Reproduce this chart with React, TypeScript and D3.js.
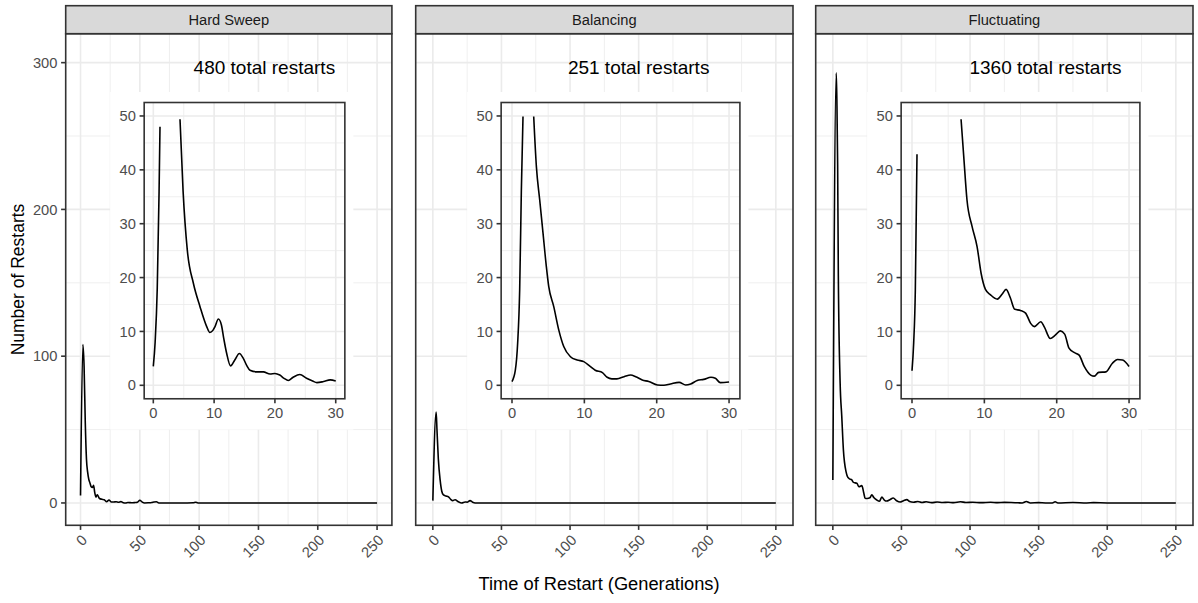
import React from "react";
import * as d3 from "d3";

// Facet labels and annotation totals
const panelTitles = ["Hard Sweep", "Balancing", "Fluctuating"];
const totalRestarts = [480, 251, 1360];
const annotationTime = [155, 150, 155];

// Full-range restart counts (generations 0-250)
const sweepTime = [0, 2, 3, 4, 5, 6, 7, 8, 9, 10, 11, 12, 13, 14, 15, 16, 18, 20, 22, 24, 26, 28, 30, 32, 34, 36, 38, 40, 42, 44, 46, 48, 50, 52, 54, 57, 60, 62, 64, 66, 70, 80, 90, 95, 97, 99, 110, 250];
const sweepCount = [5, 108, 93, 55, 30, 21, 16, 13.5, 11, 10.5, 12, 7, 4, 5.5, 4.5, 3, 2.5, 2.2, 0.9, 2.0, 0.7, 0.7, 0.8, 0.5, 0.9, 0.2, 0, 0.3, 0.2, 0.1, 0.3, 0.5, 1.8, 0.6, 0, 0.1, 0.3, 0.7, 0.8, 0, 0, 0, 0, 0.1, 0.5, 0, 0, 0];

const balancingTime = [0, 2.4, 3, 4, 5.3, 6.5, 7.7, 9.5, 11.4, 13, 14.5, 16.2, 18.6, 21, 23.5, 25, 27.1, 29, 30.8, 250];
const balancingCount = [1.6, 62, 50, 30, 15.7, 8, 5.5, 4.8, 4.2, 2.5, 1.6, 2.2, 0.8, 0, 0.7, 0.5, 1.6, 0.5, 0, 0];

const fluctTime = [0, 2.5, 3, 3.5, 4, 5.3, 6.5, 7.7, 9.7, 10.6, 12, 13.8, 15, 17.5, 19, 21.1, 22.5, 23.5, 25, 27, 28.4, 30, 32, 34, 35.7, 37.5, 39.3, 41.5, 44, 46.5, 49, 51.5, 53.9, 56, 58.7, 62, 65, 68, 72, 76, 80, 84, 88, 93, 97, 102, 108, 115, 120, 125, 130, 135, 138, 141, 144, 150, 155, 160, 162, 164, 175, 185, 190, 200, 250];
const fluctCount = [15.7, 293, 270, 230, 155, 82, 59, 36, 21, 18, 16.5, 15.7, 14, 13.4, 11, 11.8, 7, 3.2, 3, 3.5, 5.5, 3.5, 2, 1.2, 4, 2, 1.3, 2.2, 3.4, 1.5, 0.6, 1.5, 2.3, 1, 0.5, 1, 0.3, 0.8, 0.2, 0.6, 0.3, 0.5, 0.2, 0.8, 0.3, 0.5, 0.2, 0.5, 0.2, 0.4, 0.3, 0.1, 0, 1.0, 0, 0.2, 0, 0, 0.8, 0, 0.3, 0, 0.2, 0, 0];

// Early restarts (generations 0-30), shown in the inset
const sweepInsetTime = [0, 0.3, 0.65, 0.95, 1.1, 1.6, 2.2, 3.0, 3.8, 4.39, 4.9, 5.6, 6.58, 7.68, 8.78, 9.3, 9.8, 10.15, 10.7, 11.2, 11.6, 12.07, 12.7, 13.4, 14.15, 14.8, 15.4, 15.9, 17, 18.1, 19.2, 20, 20.8, 21.5, 22.2, 23, 24.1, 25.2, 26.2, 26.9, 28, 29.1, 30];
const sweepInsetCount = [3.5, 8, 18, 36, 48, 90, 108, 95, 65, 49.4, 36, 25, 19, 14.6, 10.9, 9.8, 10.2, 10.9, 12.3, 11.2, 8.6, 5.9, 3.6, 4.7, 5.9, 5.0, 3.6, 2.8, 2.5, 2.5, 2.1, 2.2, 1.9, 1.3, 0.9, 1.5, 2.0, 1.3, 0.8, 0.5, 0.7, 1.0, 0.8];

const balancingInsetTime = [0, 0.46, 0.78, 1.06, 1.29, 1.52, 2.3, 3.0, 3.37, 3.83, 4.29, 4.75, 5.08, 5.77, 6.46, 7.15, 8.08, 9, 9.92, 10.8, 11.5, 12.5, 13.15, 13.8, 14.5, 15.5, 16.4, 17.1, 18, 18.9, 20.1, 21, 21.9, 23.1, 24, 24.7, 25.6, 26.5, 27.5, 28.1, 28.8, 30];
const balancingInsetCount = [0.7, 2.8, 7.8, 17.7, 36, 49.9, 62, 49.9, 40.6, 34.4, 28.2, 22, 18.3, 14.6, 10.3, 7.2, 5.3, 4.7, 4.4, 3.5, 2.8, 2.35, 1.5, 1.2, 1.2, 1.6, 1.9, 1.6, 1.0, 0.7, 0.06, 0, 0.25, 0.55, 0.06, 0.25, 0.9, 1.1, 1.5, 1.3, 0.5, 0.6];

const fluctInsetTime = [0, 0.23, 0.46, 0.69, 1.5, 2.5, 4, 5.5, 6.78, 7.15, 7.6, 8.3, 9.0, 9.55, 10.15, 10.85, 11.8, 12.5, 13.0, 13.6, 14.2, 15.0, 15.7, 16.4, 16.9, 17.8, 18.3, 19.1, 19.8, 20.5, 21.1, 21.7, 22.4, 23.1, 23.8, 24.7, 25.2, 25.8, 26.8, 27.7, 28.4, 29.1, 30];
const fluctInsetCount = [2.7, 7.8, 17.7, 42.9, 200, 293, 150, 80, 49.4, 42.5, 34.4, 29.5, 25.7, 20.8, 17.8, 16.8, 16, 17, 17.8, 16.2, 14.1, 13.9, 13.4, 11.5, 10.9, 11.8, 10.8, 8.7, 9.3, 10.1, 9.5, 6.9, 6.1, 5.6, 3.5, 1.9, 1.7, 2.4, 2.5, 4.1, 4.8, 4.7, 3.5];

// Axis breaks
const xTicks = [0, 50, 100, 150, 200, 250];
const xMinor = [25, 75, 125, 175, 225];
const yTicks = [0, 100, 200, 300];
const yMinor = [50, 150, 250];
const insetXTicks = [0, 10, 20, 30];
const insetXMinor = [5, 15, 25];
const insetYTicks = [0, 10, 20, 30, 40, 50];
const insetYMinor = [5, 15, 25, 35, 45];

const mainSeries = [
  { time: sweepTime, count: sweepCount },
  { time: balancingTime, count: balancingCount },
  { time: fluctTime, count: fluctCount },
];
const insetSeries = [
  { time: sweepInsetTime, count: sweepInsetCount },
  { time: balancingInsetTime, count: balancingInsetCount },
  { time: fluctInsetTime, count: fluctInsetCount },
];

const W = 1198;
const H = 603;
const FONT = "'Liberation Sans', Arial, Helvetica, sans-serif";
const GRID = "#EBEBEB";
const DARK = "#333333";
const TICK_TEXT = "#4D4D4D";
const LW = 1.6;
const TICK_LEN = 4.6;
const LABEL_GAP = 3.7;
const TICK_FONT = 14.7;

// Panel frames (each facet is its own plot)
const panelBoxes = [
  { left: 65.7, right: 391.9 },
  { left: 415.7, right: 793.0 },
  { left: 815.7, right: 1193.0 },
];
const stripTop = 5.7;
const panelTop = 33.7;
const panelBottom = 525.3;
const yLimit = 304.5;
const xLimit = 250;

// Inset placement, in main-panel data units
const insetX = [25, 230];
const insetY = [50, 280];
const insetLimitX = 30;
const insetLimitY = 50;

function Panel({ idx }: { idx: number }) {
  const box = panelBoxes[idx];
  const x = d3
    .scaleLinear()
    .domain([-0.05 * xLimit, 1.05 * xLimit])
    .range([box.left, box.right]);
  const y = d3
    .scaleLinear()
    .domain([-0.05 * yLimit, 1.05 * yLimit])
    .range([panelBottom, panelTop]);

  const main = mainSeries[idx];
  const mainPts: [number, number][] = main.time.map((t, i) => [t, main.count[i]]);
  const mainLine = d3
    .line<[number, number]>()
    .x((d) => x(d[0]))
    .y((d) => y(d[1]))
    .curve(d3.curveMonotoneX);

  // inset frame
  const bgL = x(insetX[0]);
  const bgR = x(insetX[1]);
  const bgT = y(insetY[1]);
  const bgB = y(insetY[0]);
  const inL = bgL + 34;
  const inR = bgR - 8.5;
  const inT = bgT + 10.5;
  const inB = bgB - 30.8;
  const ix = d3
    .scaleLinear()
    .domain([-0.05 * insetLimitX, 1.05 * insetLimitX])
    .range([inL, inR]);
  const iy = d3
    .scaleLinear()
    .domain([-0.05 * insetLimitY, 1.05 * insetLimitY])
    .range([inB, inT]);
  const ins = insetSeries[idx];
  const insPts: [number, number][] = ins.time.map((t, i) => [t, ins.count[i]]);
  const insLine = d3
    .line<[number, number]>()
    .defined((d) => d[1] <= insetLimitY)
    .x((d) => ix(d[0]))
    .y((d) => iy(d[1]))
    .curve(d3.curveMonotoneX);

  const clipId = `clip-main-${idx}`;
  const clipInset = `clip-inset-${idx}`;

  return (
    <g>
      <defs>
        <clipPath id={clipId}>
          <rect x={box.left} y={panelTop} width={box.right - box.left} height={panelBottom - panelTop} />
        </clipPath>
        <clipPath id={clipInset}>
          <rect x={inL} y={inT} width={inR - inL} height={inB - inT} />
        </clipPath>
      </defs>

      {/* panel background and grid */}
      <rect x={box.left} y={panelTop} width={box.right - box.left} height={panelBottom - panelTop} fill="#FFFFFF" />
      {yMinor.map((v) => (
        <line key={`ym${v}`} x1={box.left} x2={box.right} y1={y(v)} y2={y(v)} stroke={GRID} strokeWidth={LW / 2} />
      ))}
      {xMinor.map((v) => (
        <line key={`xm${v}`} x1={x(v)} x2={x(v)} y1={panelTop} y2={panelBottom} stroke={GRID} strokeWidth={LW / 2} />
      ))}
      {yTicks.map((v) => (
        <line key={`yM${v}`} x1={box.left} x2={box.right} y1={y(v)} y2={y(v)} stroke={GRID} strokeWidth={LW} />
      ))}
      {xTicks.map((v) => (
        <line key={`xM${v}`} x1={x(v)} x2={x(v)} y1={panelTop} y2={panelBottom} stroke={GRID} strokeWidth={LW} />
      ))}

      {/* full-range curve */}
      <path d={mainLine(mainPts) || ""} fill="none" stroke="#000000" strokeWidth={LW} strokeLinejoin="round" clipPath={`url(#${clipId})`} />

      {/* total restarts annotation */}
      <text
        x={x(annotationTime[idx])}
        y={y(296.7)}
        dy="0.35em"
        textAnchor="middle"
        fontFamily={FONT}
        fontSize={19}
        fill="#000000"
      >
        {`${totalRestarts[idx]} total restarts`}
      </text>

      {/* inset plot */}
      <rect x={bgL} y={bgT} width={bgR - bgL} height={bgB - bgT} fill="#FFFFFF" />
      {insetYMinor.map((v) => (
        <line key={`iym${v}`} x1={inL} x2={inR} y1={iy(v)} y2={iy(v)} stroke={GRID} strokeWidth={LW / 2} />
      ))}
      {insetXMinor.map((v) => (
        <line key={`ixm${v}`} x1={ix(v)} x2={ix(v)} y1={inT} y2={inB} stroke={GRID} strokeWidth={LW / 2} />
      ))}
      {insetYTicks.map((v) => (
        <line key={`iyM${v}`} x1={inL} x2={inR} y1={iy(v)} y2={iy(v)} stroke={GRID} strokeWidth={LW} />
      ))}
      {insetXTicks.map((v) => (
        <line key={`ixM${v}`} x1={ix(v)} x2={ix(v)} y1={inT} y2={inB} stroke={GRID} strokeWidth={LW} />
      ))}
      <path d={insLine(insPts) || ""} fill="none" stroke="#000000" strokeWidth={LW} strokeLinejoin="round" clipPath={`url(#${clipInset})`} />
      <rect x={inL} y={inT} width={inR - inL} height={inB - inT} fill="none" stroke={DARK} strokeWidth={LW} />
      {insetYTicks.map((v) => (
        <g key={`iyt${v}`}>
          <line x1={inL - TICK_LEN} x2={inL} y1={iy(v)} y2={iy(v)} stroke={DARK} strokeWidth={LW} />
          <text
            x={inL - TICK_LEN - LABEL_GAP}
            y={iy(v)}
            dy="0.35em"
            textAnchor="end"
            fontFamily={FONT}
            fontSize={TICK_FONT}
            fill={TICK_TEXT}
          >
            {v}
          </text>
        </g>
      ))}
      {insetXTicks.map((v) => (
        <g key={`ixt${v}`}>
          <line x1={ix(v)} x2={ix(v)} y1={inB} y2={inB + TICK_LEN} stroke={DARK} strokeWidth={LW} />
          <text
            x={ix(v)}
            y={inB + TICK_LEN + LABEL_GAP}
            dy="0.75em"
            textAnchor="middle"
            fontFamily={FONT}
            fontSize={TICK_FONT}
            fill={TICK_TEXT}
          >
            {v}
          </text>
        </g>
      ))}

      {/* panel border */}
      <rect x={box.left} y={panelTop} width={box.right - box.left} height={panelBottom - panelTop} fill="none" stroke={DARK} strokeWidth={LW} />

      {/* facet strip */}
      <rect x={box.left} y={stripTop} width={box.right - box.left} height={panelTop - stripTop} fill="#D9D9D9" stroke={DARK} strokeWidth={LW} />
      <text
        x={(box.left + box.right) / 2}
        y={(stripTop + panelTop) / 2}
        dy="0.35em"
        textAnchor="middle"
        fontFamily={FONT}
        fontSize={TICK_FONT}
        fill="#1A1A1A"
      >
        {panelTitles[idx]}
      </text>

      {/* x axis */}
      {xTicks.map((v) => (
        <g key={`xt${v}`}>
          <line x1={x(v)} x2={x(v)} y1={panelBottom} y2={panelBottom + TICK_LEN} stroke={DARK} strokeWidth={LW} />
          <text
            transform={`translate(${x(v)},${panelBottom + TICK_LEN + LABEL_GAP}) rotate(-45)`}
            dy="0.72em"
            textAnchor="end"
            fontFamily={FONT}
            fontSize={TICK_FONT}
            fill={TICK_TEXT}
          >
            {v}
          </text>
        </g>
      ))}

      {/* y axis on the first facet only */}
      {idx === 0 &&
        yTicks.map((v) => (
          <g key={`yt${v}`}>
            <line x1={box.left - TICK_LEN} x2={box.left} y1={y(v)} y2={y(v)} stroke={DARK} strokeWidth={LW} />
            <text
              x={box.left - TICK_LEN - LABEL_GAP}
              y={y(v)}
              dy="0.35em"
              textAnchor="end"
              fontFamily={FONT}
              fontSize={TICK_FONT}
              fill={TICK_TEXT}
            >
              {v}
            </text>
          </g>
        ))}
    </g>
  );
}

export default function App() {
  return (
    <svg width={W} height={H} style={{ display: "block", position: "absolute", left: 0, top: 0 }}>
      <rect width={W} height={H} fill="#FFFFFF" />
      {panelTitles.map((_, i) => (
        <Panel key={i} idx={i} />
      ))}
      <text
        transform={`translate(18,279.5) rotate(-90)`}
        dy="0.35em"
        textAnchor="middle"
        fontFamily={FONT}
        fontSize={17.5}
        fill="#000000"
      >
        Number of Restarts
      </text>
      <text x={599} y={590} textAnchor="middle" fontFamily={FONT} fontSize={18.3} fill="#000000">
        Time of Restart (Generations)
      </text>
    </svg>
  );
}
